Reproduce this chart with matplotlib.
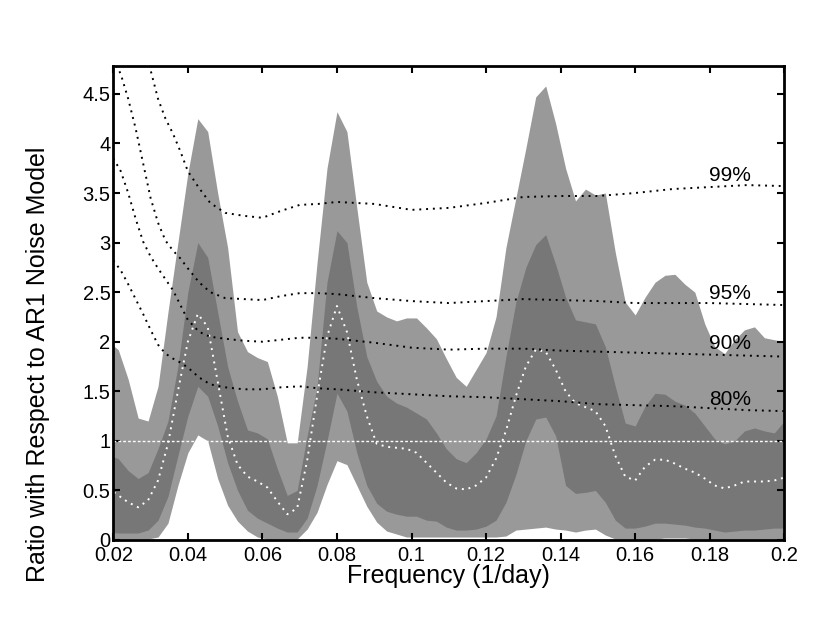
import matplotlib
matplotlib.use("Agg")
import matplotlib.pyplot as plt

# frequency grid of the spectral bands (1/day)
freq = [0.01867, 0.02133, 0.02400, 0.02667, 0.02933, 0.03200, 0.03467, 0.03733,
        0.04000, 0.04267, 0.04533, 0.04800, 0.05067, 0.05333, 0.05600, 0.05867,
        0.06133, 0.06400, 0.06667, 0.06933, 0.07200, 0.07467, 0.07733, 0.08000,
        0.08267, 0.08533, 0.08800, 0.09067, 0.09333, 0.09600, 0.09867, 0.10133,
        0.10400, 0.10667, 0.10933, 0.11200, 0.11467, 0.11733, 0.12000, 0.12267,
        0.12533, 0.12800, 0.13067, 0.13333, 0.13600, 0.13867, 0.14133, 0.14400,
        0.14667, 0.14933, 0.15200, 0.15467, 0.15733, 0.16000, 0.16267, 0.16533,
        0.16800, 0.17067, 0.17333, 0.17600, 0.17867, 0.18133, 0.18400, 0.18667,
        0.18933, 0.19200, 0.19467, 0.19733, 0.20000]

# outer band (light grey)
outer_hi = [2.00, 1.92, 1.62, 1.23, 1.20, 1.55, 2.30, 3.00, 3.70, 4.25,
            4.12, 3.50, 2.95, 2.10, 1.90, 1.84, 1.80, 1.45, 0.98, 0.98,
            1.75, 2.80, 3.75, 4.32, 4.12, 3.35, 2.60, 2.31, 2.25, 2.21,
            2.24, 2.24, 2.14, 2.03, 1.83, 1.64, 1.55, 1.72, 1.89, 2.25,
            2.95, 3.45, 3.95, 4.47, 4.58, 4.20, 3.75, 3.42, 3.54, 3.48,
            3.50, 2.90, 2.40, 2.27, 2.45, 2.60, 2.67, 2.68, 2.58, 2.50,
            2.18, 1.95, 1.88, 2.02, 2.12, 2.15, 2.04, 2.02, 2.00]
outer_lo = [0.01, 0.01, 0.01, 0.01, 0.01, 0.03, 0.17, 0.55, 0.88, 1.06,
            1.00, 0.62, 0.35, 0.19, 0.09, 0.03, 0.01, 0.01, 0.01, 0.01,
            0.11, 0.28, 0.56, 0.80, 0.76, 0.55, 0.34, 0.18, 0.09, 0.06,
            0.03, 0.03, 0.03, 0.03, 0.03, 0.03, 0.03, 0.03, 0.03, 0.03,
            0.04, 0.10, 0.11, 0.12, 0.13, 0.11, 0.10, 0.08, 0.10, 0.11,
            0.05, 0.01, 0.01, 0.01, 0.01, 0.01, 0.02, 0.02, 0.02, 0.01,
            0.01, 0.01, 0.01, 0.01, 0.01, 0.01, 0.01, 0.01, 0.01]

# inner band (dark grey)
inner_hi = [0.86, 0.82, 0.70, 0.62, 0.68, 0.92, 1.20, 1.75, 2.50, 3.00,
            2.85, 2.30, 1.75, 1.40, 1.11, 1.08, 1.02, 0.72, 0.45, 0.50,
            1.05, 1.55, 2.60, 3.12, 3.00, 2.35, 1.85, 1.60, 1.45, 1.38,
            1.34, 1.28, 1.22, 1.08, 0.92, 0.82, 0.78, 0.88, 1.02, 1.25,
            1.85, 2.40, 2.75, 2.98, 3.08, 2.78, 2.45, 2.22, 2.20, 2.18,
            1.95, 1.55, 1.18, 1.15, 1.35, 1.48, 1.47, 1.40, 1.36, 1.28,
            1.15, 1.02, 0.97, 1.00, 1.10, 1.13, 1.10, 1.08, 1.20]
inner_lo = [0.08, 0.07, 0.07, 0.07, 0.10, 0.20, 0.44, 0.85, 1.25, 1.55,
            1.45, 1.15, 0.78, 0.50, 0.30, 0.22, 0.17, 0.12, 0.08, 0.08,
            0.22, 0.55, 1.00, 1.48, 1.30, 0.88, 0.55, 0.37, 0.29, 0.26,
            0.24, 0.24, 0.20, 0.19, 0.13, 0.10, 0.10, 0.11, 0.14, 0.20,
            0.38, 0.66, 1.00, 1.22, 1.24, 1.05, 0.55, 0.47, 0.48, 0.50,
            0.38, 0.20, 0.12, 0.12, 0.14, 0.17, 0.17, 0.16, 0.15, 0.13,
            0.12, 0.10, 0.08, 0.09, 0.10, 0.10, 0.11, 0.12, 0.12]

# median ratio (white dotted)
median = [0.52, 0.45, 0.38, 0.33, 0.40, 0.60, 0.97, 1.50, 2.00, 2.28,
          2.15, 1.60, 1.05, 0.76, 0.64, 0.59, 0.53, 0.39, 0.26, 0.32,
          0.80, 1.45, 2.05, 2.36, 2.10, 1.62, 1.25, 0.97, 0.94, 0.93,
          0.92, 0.88, 0.78, 0.68, 0.58, 0.52, 0.51, 0.55, 0.63, 0.82,
          1.10, 1.45, 1.75, 1.92, 1.90, 1.72, 1.50, 1.38, 1.34, 1.30,
          1.15, 0.85, 0.64, 0.60, 0.74, 0.81, 0.81, 0.77, 0.72, 0.68,
          0.62, 0.55, 0.52, 0.55, 0.59, 0.59, 0.59, 0.60, 0.63]

# significance levels
sig_freq = [0.020, 0.022, 0.024, 0.026, 0.028, 0.030, 0.032, 0.034, 0.036,
            0.038, 0.040, 0.043, 0.046, 0.050, 0.055, 0.060, 0.065, 0.070,
            0.075, 0.080, 0.090, 0.100, 0.110, 0.120, 0.130, 0.140, 0.150,
            0.160, 0.170, 0.180, 0.190, 0.200]
sig99 = [6.40, 6.00, 5.65, 5.30, 5.00, 4.74, 4.45, 4.25, 4.10, 3.92, 3.72,
         3.55, 3.40, 3.30, 3.27, 3.25, 3.32, 3.38, 3.39, 3.41, 3.39, 3.33,
         3.35, 3.40, 3.46, 3.47, 3.47, 3.50, 3.54, 3.56, 3.58, 3.57]
sig95 = [4.85, 4.70, 4.45, 4.15, 3.80, 3.45, 3.20, 3.02, 2.92, 2.84, 2.74,
         2.60, 2.50, 2.44, 2.43, 2.42, 2.46, 2.49, 2.49, 2.48, 2.44, 2.41,
         2.39, 2.41, 2.43, 2.42, 2.41, 2.39, 2.39, 2.39, 2.38, 2.37]
sig90 = [3.85, 3.72, 3.50, 3.24, 3.01, 2.86, 2.74, 2.63, 2.52, 2.37, 2.22,
         2.10, 2.05, 2.03, 2.01, 2.00, 2.02, 2.04, 2.04, 2.03, 1.99, 1.94,
         1.92, 1.93, 1.93, 1.91, 1.90, 1.89, 1.88, 1.87, 1.86, 1.85]
sig80 = [2.82, 2.72, 2.58, 2.43, 2.28, 2.12, 1.97, 1.88, 1.83, 1.79, 1.74,
         1.64, 1.57, 1.54, 1.52, 1.52, 1.54, 1.55, 1.53, 1.52, 1.49, 1.47,
         1.45, 1.44, 1.42, 1.40, 1.37, 1.36, 1.35, 1.33, 1.31, 1.30]
sig_labels = ["99%", "95%", "90%", "80%"]
label_y = [3.68, 2.49, 1.98, 1.42]

xticks = [0.02, 0.04, 0.06, 0.08, 0.1, 0.12, 0.14, 0.16, 0.18, 0.2]
yticks = [0, 0.5, 1, 1.5, 2, 2.5, 3, 3.5, 4, 4.5]

plt.rcParams['font.family'] = ['Liberation Sans', 'DejaVu Sans']

fig = plt.figure(figsize=(8.3, 6.42), dpi=100)
ax = fig.add_axes([0.1365, 0.1589, 0.8084, 0.7381])

ax.fill_between(freq, outer_lo, outer_hi, color='#999999', lw=0)
ax.fill_between(freq, inner_lo, inner_hi, color='#777777', lw=0)
ax.axhline(1, color='white', lw=1.0, ls=(0, (2, 1.5)))
ax.plot(freq, median, color='white', lw=1.4, ls=(0, (1, 2.5)))

for s in [sig99, sig95, sig90, sig80]:
    ax.plot(sig_freq, s, color='black', lw=1.4, ls=(0, (1, 2.5)))
for lab, yy in zip(sig_labels, label_y):
    ax.text(0.1855, yy, lab, fontsize=15, ha='center', va='center')

ax.set_xlim(0.02, 0.2)
ax.set_ylim(0, 4.78)
ax.set_xticks(xticks)
ax.set_xticklabels([f"{t:g}" for t in xticks])
ax.set_yticks(yticks)
ax.set_yticklabels([f"{t:g}" for t in yticks])
ax.tick_params(direction='in', length=5, width=1.5, labelsize=14.5,
               top=True, right=True, pad=2)
ax.tick_params(axis='x', pad=4.5)
for sp in ax.spines.values():
    sp.set_linewidth(2)

ax.set_xlabel("Frequency (1/day)", fontsize=18)
ax.xaxis.set_label_coords(0.5, -0.05)
ax.set_ylabel("Ratio with Respect to AR1 Noise Model", fontsize=18)
ax.yaxis.set_label_coords(-0.094, 0.371)

fig.savefig("out.png", dpi=100)
